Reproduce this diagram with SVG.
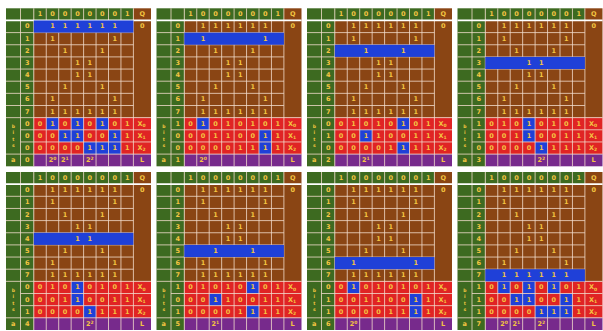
<svg xmlns="http://www.w3.org/2000/svg" width="603" height="331" viewBox="0 0 603 331">
<style>
.g{fill:#3d6a20}.b{fill:#8a4514}.r{fill:#e02424}.u{fill:#1f40d8}.p{fill:#772a8c}
.ln{stroke:#f3dccb;stroke-width:0.8;fill:none}
.hd{stroke:#ffffff;stroke-width:1.8}
text{font-family:"DejaVu Sans","Liberation Sans",sans-serif;font-size:6.5px;font-weight:bold;fill:#f4c542;text-anchor:middle;dominant-baseline:central}
.s{font-size:4.5px}
</style>
<defs>
<g id="bg">
<rect class="g" x="0" y="0" width="27.8" height="158"/>
<rect class="g" x="27.8" y="0" width="99.6" height="12.15"/>
<rect class="b" x="127.4" y="0" width="17.6" height="12.15"/>
<rect class="b" x="27.8" y="12.15" width="117.2" height="97.2"/>
<rect class="r" x="27.8" y="109.35" width="117.2" height="36.45"/>
<rect class="p" x="27.8" y="145.8" width="117.2" height="12.2"/>
</g>
<g id="lines">
<path class="ln" d="M14.5 0V158M27.8 0V158M40.25 0V158M52.7 0V158M65.15 0V158M77.6 0V158M90.05 0V158M102.5 0V158M114.95 0V158M127.4 0V158M0 24.3H127.4M0 36.45H127.4M0 48.6H127.4M0 60.75H127.4M0 72.9H127.4M0 85.05H127.4M0 97.2H127.4M0 109.35H145M14.5 121.5H145M14.5 133.65H145M0 145.8H145"/>
<path class="hd" d="M0 12.15H145"/>
</g>
<g id="txt">
<text x="34 46.5 58.9 71.4 83.8 96.3 108.7 121.2" y="6.1">10000001</text>
<text x="136.2" y="6.1">Q</text>
<text x="21.15" y="18.2">0</text><text x="21.15" y="30.4">1</text><text x="21.15" y="42.5">2</text><text x="21.15" y="54.7">3</text>
<text x="21.15" y="66.8">4</text><text x="21.15" y="79">5</text><text x="21.15" y="91.1">6</text><text x="21.15" y="103.3">7</text>
<text x="136.2" y="18.2">0</text>
<text x="46.5 58.9 71.4 83.8 96.3 108.7" y="18.2">111111</text>
<text x="46.5 108.7" y="30.4">11</text>
<text x="58.9 96.3" y="42.5">11</text>
<text x="71.4 83.8" y="54.7">11</text>
<text x="71.4 83.8" y="66.8">11</text>
<text x="58.9 96.3" y="79">11</text>
<text x="46.5 108.7" y="91.1">11</text>
<text x="46.5 58.9 71.4 83.8 96.3 108.7" y="103.3">111111</text>
<text x="34 46.5 58.9 71.4 83.8 96.3 108.7 121.2" y="115.4">01010101</text>
<text x="34 46.5 58.9 71.4 83.8 96.3 108.7 121.2" y="127.6">00110011</text>
<text x="34 46.5 58.9 71.4 83.8 96.3 108.7 121.2" y="139.7">00001111</text>
<text x="135.5" y="115.4">X<tspan class="s" dy="1.5">0</tspan></text>
<text x="135.5" y="127.6">X<tspan class="s" dy="1.5">1</tspan></text>
<text x="135.5" y="139.7">X<tspan class="s" dy="1.5">2</tspan></text>
<text x="7.25 7.25 7.25 7.25" y="118 124.5 131 137.5" class="s">bits</text>
<text x="7.25" y="151.9">a</text>
<text x="136.2" y="151.9">L</text>
</g>
</defs>

<g id="panel-1" transform="translate(6 8.3)">
<use href="#bg"/>
<rect class="u" x="40.25" y="109.35" width="12.45" height="12.15"/><rect class="u" x="65.15" y="109.35" width="12.45" height="12.15"/><rect class="u" x="90.05" y="109.35" width="12.45" height="12.15"/>
<rect class="u" x="52.7" y="121.5" width="24.9" height="12.15"/><rect class="u" x="102.5" y="121.5" width="12.45" height="12.15"/>
<rect class="u" x="77.6" y="133.65" width="37.35" height="12.15"/>
<use href="#lines"/>
<rect class="u" x="27.8" y="12.15" width="99.6" height="12.15"/>
<use href="#txt"/>
<text x="21.15 21.15 21.15 21.15" y="115.4 127.6 139.7 151.9">0000</text>
<text x="46.5" y="151.9">2<tspan class="s" dy="-2">0</tspan></text><text x="58.9" y="151.9">2<tspan class="s" dy="-2">1</tspan></text><text x="83.8" y="151.9">2<tspan class="s" dy="-2">2</tspan></text>
</g>

<g id="panel-2" transform="translate(156.5 8.3)">
<use href="#bg"/>
<rect class="u" x="40.25" y="109.35" width="12.45" height="12.15"/>
<rect class="u" x="102.5" y="121.5" width="12.45" height="12.15"/>
<rect class="u" x="102.5" y="133.65" width="12.45" height="12.15"/>
<use href="#lines"/>
<rect class="u" x="27.8" y="24.3" width="99.6" height="12.15"/>
<use href="#txt"/>
<text x="21.15 21.15 21.15 21.15" y="115.4 127.6 139.7 151.9">1001</text>
<text x="46.5" y="151.9">2<tspan class="s" dy="-2">0</tspan></text>
</g>

<g id="panel-3" transform="translate(307 8.3)">
<use href="#bg"/>
<rect class="u" x="90.05" y="109.35" width="12.45" height="12.15"/>
<rect class="u" x="52.7" y="121.5" width="12.45" height="12.15"/>
<rect class="u" x="90.05" y="133.65" width="12.45" height="12.15"/>
<use href="#lines"/>
<rect class="u" x="27.8" y="36.45" width="99.6" height="12.15"/>
<use href="#txt"/>
<text x="21.15 21.15 21.15 21.15" y="115.4 127.6 139.7 151.9">0102</text>
<text x="58.9" y="151.9">2<tspan class="s" dy="-2">1</tspan></text>
</g>

<g id="panel-4" transform="translate(457.5 8.3)">
<use href="#bg"/>
<rect class="u" x="65.15" y="109.35" width="12.45" height="12.15"/>
<rect class="u" x="65.15" y="121.5" width="12.45" height="12.15"/>
<rect class="u" x="77.6" y="133.65" width="12.45" height="12.15"/>
<use href="#lines"/>
<rect class="u" x="27.8" y="48.6" width="99.6" height="12.15"/>
<use href="#txt"/>
<text x="21.15 21.15 21.15 21.15" y="115.4 127.6 139.7 151.9">1103</text>
<text x="83.8" y="151.9">2<tspan class="s" dy="-2">2</tspan></text>
</g>

<g id="panel-5" transform="translate(6 172)">
<use href="#bg"/>
<rect class="u" x="65.15" y="109.35" width="12.45" height="12.15"/>
<rect class="u" x="65.15" y="121.5" width="12.45" height="12.15"/>
<rect class="u" x="77.6" y="133.65" width="12.45" height="12.15"/>
<use href="#lines"/>
<rect class="u" x="27.8" y="60.75" width="99.6" height="12.15"/>
<use href="#txt"/>
<text x="21.15 21.15 21.15 21.15" y="115.4 127.6 139.7 151.9">0014</text>
<text x="83.8" y="151.9">2<tspan class="s" dy="-2">2</tspan></text>
</g>

<g id="panel-6" transform="translate(156.5 172)">
<use href="#bg"/>
<rect class="u" x="90.05" y="109.35" width="12.45" height="12.15"/>
<rect class="u" x="52.7" y="121.5" width="12.45" height="12.15"/>
<rect class="u" x="90.05" y="133.65" width="12.45" height="12.15"/>
<use href="#lines"/>
<rect class="u" x="27.8" y="72.9" width="99.6" height="12.15"/>
<use href="#txt"/>
<text x="21.15 21.15 21.15 21.15" y="115.4 127.6 139.7 151.9">1015</text>
<text x="58.9" y="151.9">2<tspan class="s" dy="-2">1</tspan></text>
</g>

<g id="panel-7" transform="translate(307 172)">
<use href="#bg"/>
<rect class="u" x="40.25" y="109.35" width="12.45" height="12.15"/>
<rect class="u" x="102.5" y="121.5" width="12.45" height="12.15"/>
<rect class="u" x="102.5" y="133.65" width="12.45" height="12.15"/>
<use href="#lines"/>
<rect class="u" x="27.8" y="85.05" width="99.6" height="12.15"/>
<use href="#txt"/>
<text x="21.15 21.15 21.15 21.15" y="115.4 127.6 139.7 151.9">0116</text>
<text x="46.5" y="151.9">2<tspan class="s" dy="-2">0</tspan></text>
</g>

<g id="panel-8" transform="translate(457.5 172)">
<use href="#bg"/>
<rect class="u" x="40.25" y="109.35" width="12.45" height="12.15"/><rect class="u" x="65.15" y="109.35" width="12.45" height="12.15"/><rect class="u" x="90.05" y="109.35" width="12.45" height="12.15"/>
<rect class="u" x="52.7" y="121.5" width="24.9" height="12.15"/><rect class="u" x="102.5" y="121.5" width="12.45" height="12.15"/>
<rect class="u" x="77.6" y="133.65" width="37.35" height="12.15"/>
<use href="#lines"/>
<rect class="u" x="27.8" y="97.2" width="99.6" height="12.15"/>
<use href="#txt"/>
<text x="21.15 21.15 21.15 21.15" y="115.4 127.6 139.7 151.9">1117</text>
<text x="46.5" y="151.9">2<tspan class="s" dy="-2">0</tspan></text><text x="58.9" y="151.9">2<tspan class="s" dy="-2">1</tspan></text><text x="83.8" y="151.9">2<tspan class="s" dy="-2">2</tspan></text>
</g>
</svg>
